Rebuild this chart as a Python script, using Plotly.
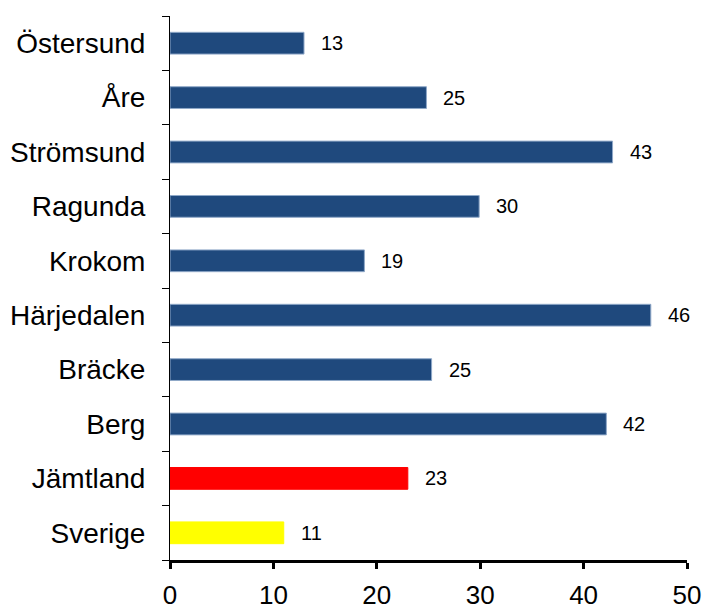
import plotly.graph_objects as go

categories = ["Östersund", "Åre", "Strömsund", "Ragunda", "Krokom",
              "Härjedalen", "Bräcke", "Berg", "Jämtland", "Sverige"]
values = [12.96, 24.8, 42.8, 29.9, 18.8, 46.5, 25.3, 42.2, 23.0, 11.0]
labels = ["13", "25", "43", "30", "19", "46", "25", "42", "23", "11"]
colors = ["#1F497D"] * 8 + ["#FF0000", "#FFFF00"]
line_colors = ["#8FA8C8"] * 8 + ["#FF0000", "#FFFF00"]
x_ticks = [0, 10, 20, 30, 40, 50]

FONT = "Liberation Sans, Arial"

fig = go.Figure()
fig.add_trace(go.Bar(
    y=categories, x=values, orientation="h",
    marker=dict(color=colors, line=dict(color=line_colors, width=1)),
    width=0.4, hoverinfo="skip",
))
for c, v, t in zip(categories, values, labels):
    fig.add_annotation(x=v, y=c, text=t, showarrow=False, xanchor="left",
                       xshift=15, font=dict(family=FONT, size=20, color="black"))

fig.update_layout(
    width=706, height=613,
    margin=dict(l=170, r=19, t=16, b=53, autoexpand=False),
    plot_bgcolor="white", paper_bgcolor="white",
    showlegend=False,
    font=dict(family=FONT, color="black"),
)
fig.update_xaxes(range=[0, 50], tickvals=x_ticks, showgrid=False, zeroline=False,
                 showline=True, linecolor="black", linewidth=3,
                 ticks="outside", ticklen=6, tickwidth=3, tickcolor="black",
                 tickfont=dict(size=26), ticklabelstandoff=4,
                 fixedrange=True, automargin=False)
fig.update_yaxes(categoryorder="array", categoryarray=categories[::-1],
                 showgrid=False, zeroline=False, showline=True, linecolor="black",
                 linewidth=1, ticks="outside", ticklen=7, tickcolor="black",
                 tickson="boundaries", tickfont=dict(size=28), ticklabelstandoff=18,
                 automargin=False)

fig.write_html("out.html", config={"displayModeBar": False},
               post_script="document.body.style.margin='0';document.body.style.overflow='hidden';")
